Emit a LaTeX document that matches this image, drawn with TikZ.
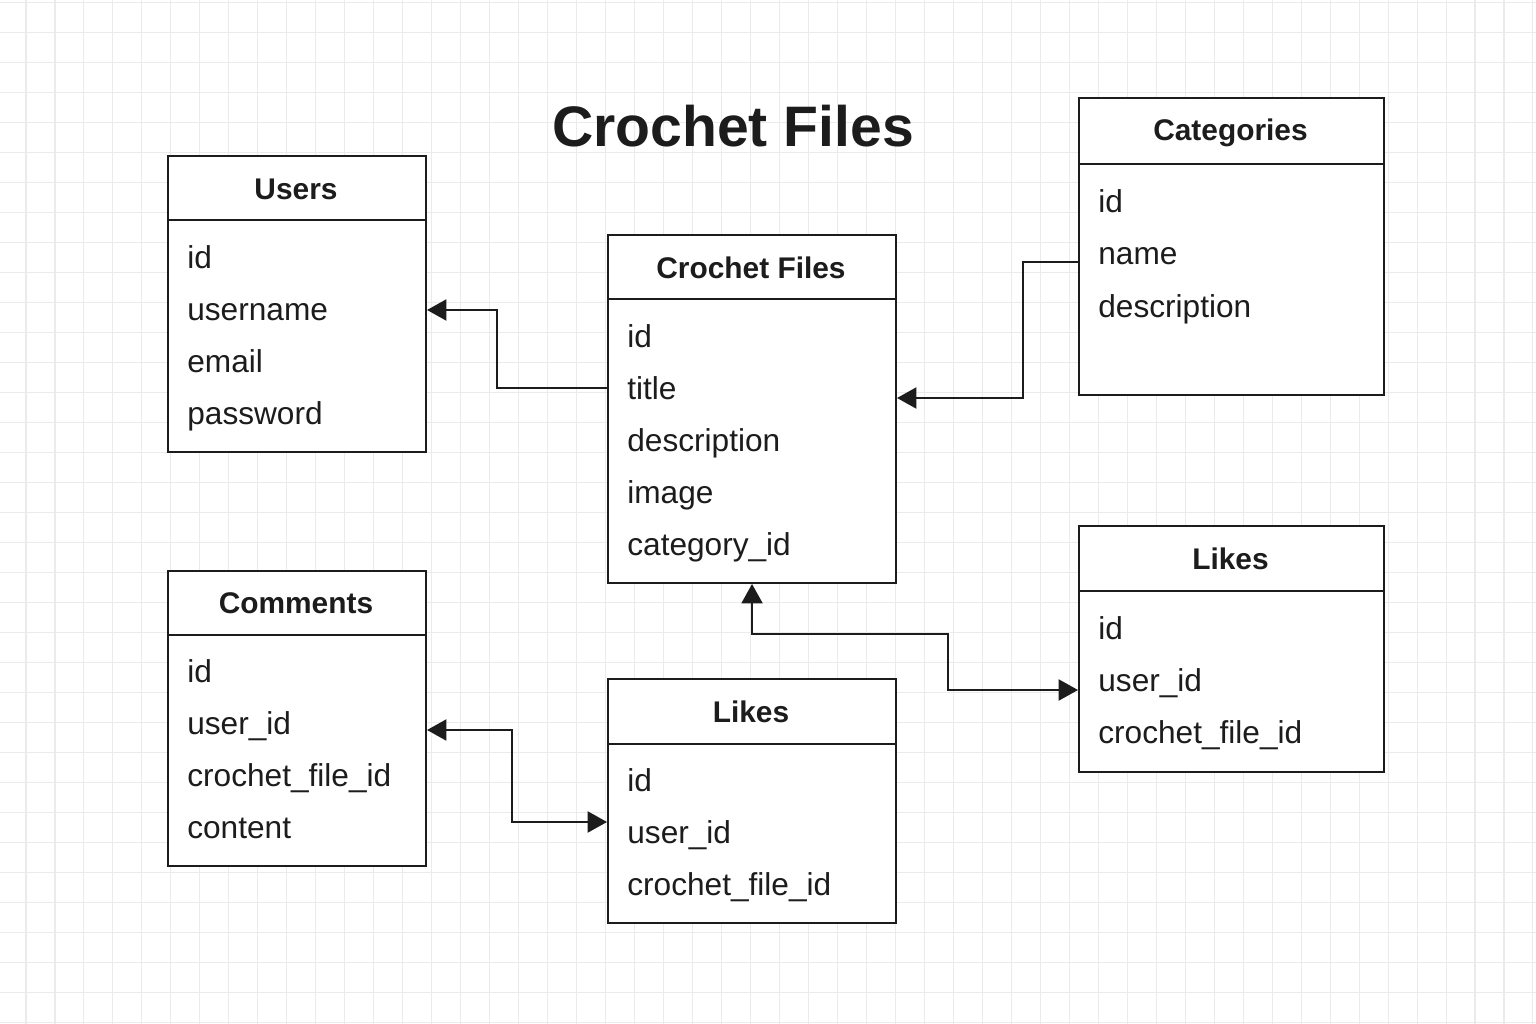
\documentclass[tikz,border=0pt]{standalone}
\usepackage{fontspec}
\setmainfont{Liberation Sans}
\usepackage{tikz}
\usetikzlibrary{calc,arrows.meta,positioning}
\definecolor{ink}{HTML}{1C1C1C}
\definecolor{gridgray}{HTML}{EBEBEB}
\tikzset{
  tbl/.style={draw=ink,line width=1.2pt,fill=white,inner sep=0pt,anchor=north west},
  divider/.style={draw=ink,line width=1.2pt},
  head/.style={font=\fontsize{17}{20}\selectfont\bfseries,text=ink,anchor=base},
  field/.style={font=\fontsize{18}{22}\selectfont,text=ink,anchor=west,inner sep=0pt,
    text height=0.8em,text depth=0.18em},
  link/.style={draw=ink,line width=1pt,-{Triangle[length=11pt,width=12pt]}},
  biLink/.style={draw=ink,line width=1pt,
    {Triangle[length=11pt,width=12pt]}-{Triangle[length=11pt,width=12pt]}},
  gridline/.style={draw=gridgray,line width=0.6pt}
}

\begin{document}
\begin{tikzpicture}[x=0.02cm,y=-0.02cm]
  % Page and background grid
  \useasboundingbox (0,0) rectangle (1536,1024);
  \fill[white] (0,0) rectangle (1536,1024);
  \foreach \k in {0,...,52}
    \draw[gridline] ({26+28.98*\k},0) -- ({26+28.98*\k},1024);
  \foreach \k in {0,...,34}
    \draw[gridline] (0,{2.3+30*\k}) -- (1536,{2.3+30*\k});

  % Title
  \node[font=\fontsize{32.5}{38}\selectfont\bfseries,text=ink,anchor=base] (title) at (733,147) {Crochet Files};

  % Users
  \node[tbl,minimum width=5.16cm,minimum height=5.92cm] (users) at (167,155) {};
  \draw[divider] ([yshift=-1.3cm]users.north west) -- ([yshift=-1.3cm]users.north east);
  \node[head] (usersHead) at (296,199) {Users};
  \foreach \f [count=\i] in {id,username,email,password}
    \node[field] (users-\i) at (187,{263+52*(\i-1)}) {\f};

  % Crochet Files
  \node[tbl,minimum width=5.76cm,minimum height=6.96cm] (files) at (607,234) {};
  \draw[divider] ([yshift=-1.3cm]files.north west) -- ([yshift=-1.3cm]files.north east);
  \node[head] (filesHead) at (751,278) {Crochet Files};
  \foreach \f [count=\i] in {id,title,description,image,category\_id}
    \node[field] (files-\i) at (627,{342+52*(\i-1)}) {\f};

  % Categories
  \node[tbl,minimum width=6.1cm,minimum height=5.94cm] (cats) at (1078,97) {};
  \draw[divider] ([yshift=-1.34cm]cats.north west) -- ([yshift=-1.34cm]cats.north east);
  \node[head] (catsHead) at (1230.5,141) {Categories};
  \foreach \f [count=\i] in {id,name,description}
    \node[field] (cats-\i) at (1098,{207+52.5*(\i-1)}) {\f};

  % Comments
  \node[tbl,minimum width=5.16cm,minimum height=5.9cm] (comments) at (167,570) {};
  \draw[divider] ([yshift=-1.3cm]comments.north west) -- ([yshift=-1.3cm]comments.north east);
  \node[head] (commentsHead) at (296,613) {Comments};
  \foreach \f [count=\i] in {id,user\_id,crochet\_file\_id,content}
    \node[field] (comments-\i) at (187,{677+52*(\i-1)}) {\f};

  % Likes (bottom)
  \node[tbl,minimum width=5.76cm,minimum height=4.88cm] (likes) at (607,678) {};
  \draw[divider] ([yshift=-1.32cm]likes.north west) -- ([yshift=-1.32cm]likes.north east);
  \node[head] (likesHead) at (751,722) {Likes};
  \foreach \f [count=\i] in {id,user\_id,crochet\_file\_id}
    \node[field] (likes-\i) at (627,{786+52*(\i-1)}) {\f};

  % Likes (right)
  \node[tbl,minimum width=6.1cm,minimum height=4.92cm] (likesR) at (1078,525) {};
  \draw[divider] ([yshift=-1.32cm]likesR.north west) -- ([yshift=-1.32cm]likesR.north east);
  \node[head] (likesRHead) at (1230.5,569) {Likes};
  \foreach \f [count=\i] in {id,user\_id,crochet\_file\_id}
    \node[field] (likesR-\i) at (1098,{634+52*(\i-1)}) {\f};

  % Connectors
  \coordinate (bendA) at (497,310);
  \coordinate (tailA) at (0,388);
  \draw[link] (files.west |- tailA) -| (bendA) -- (users.east |- bendA);

  \coordinate (bendB) at (1023,262);
  \coordinate (tipB) at (0,398);
  \draw[link] (cats.west |- bendB) -- (bendB) |- (files.east |- tipB);

  \coordinate (bendC) at (948,634);
  \coordinate (tipC) at (0,690);
  \draw[biLink] (files.south) |- (bendC) |- (likesR.west |- tipC);

  \coordinate (bendD) at (512,730);
  \coordinate (tipD) at (0,822);
  \draw[biLink] (comments.east |- bendD) -- (bendD) |- (likes.west |- tipD);
\end{tikzpicture}
\end{document}
